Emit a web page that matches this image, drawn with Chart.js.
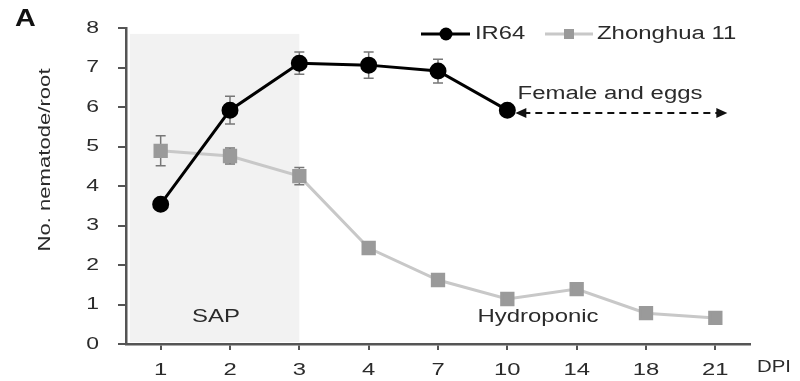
<!DOCTYPE html>
<html>
<head>
<meta charset="utf-8">
<script src="https://cdn.jsdelivr.net/npm/chart.js@4"></script>
<style>
  body { margin: 0; background: #fff; }
  #wrap { width: 800px; height: 381px; position: relative; }
</style>
</head>
<body>
<div id="wrap"><canvas id="chart" width="800" height="381"></canvas></div>
<script>
"use strict";

const dpi = ['1', '2', '3', '4', '7', '10', '14', '18', '21'];
const ir64 = [3.54, 5.92, 7.11, 7.06, 6.91, 5.92, null, null, null];
const ir64Err = [0.1, 0.35, 0.28, 0.33, 0.3, 0.1, 0, 0, 0];
const zh11 = [4.89, 4.76, 4.25, 2.43, 1.62, 1.14, 1.39, 0.78, 0.66];
const zh11Err = [0.38, 0.2, 0.22, 0.05, 0.05, 0.05, 0.05, 0.05, 0.05];
const yTicks = [0, 1, 2, 3, 4, 5, 6, 7, 8];

const FONT = '"Liberation Sans", Arial, sans-serif';
const axisColor = '#555';
const textColor = '#2b2b2b';

// the source figure has its text stretched sideways, so draw it with a scale
function wideText(ctx, text, x, y, size, align, sx, bold) {
  ctx.save();
  ctx.translate(x, y);
  ctx.scale(sx, 1);
  ctx.font = (bold ? 'bold ' : '') + size + 'px ' + FONT;
  ctx.textAlign = align;
  ctx.textBaseline = 'middle';
  ctx.fillText(text, 0, 0);
  ctx.restore();
}

// error bars + shaded SAP box + annotations + legend + labels
const extras = {
  id: 'extras',
  beforeDatasetsDraw(chart) {
    const ctx = chart.ctx;
    const x = chart.scales.x, y = chart.scales.y;
    // SAP shade, from axis to the "3" tick
    ctx.save();
    ctx.fillStyle = '#f2f2f2';
    const left = chart.chartArea.left + 4;
    const right = x.getPixelForValue(2);
    const top = y.getPixelForValue(7.85);
    ctx.fillRect(left, top, right - left, y.getPixelForValue(0) - top - 2);
    ctx.restore();

    // error bars
    const sets = [[zh11, zh11Err], [ir64, ir64Err]];
    ctx.save();
    ctx.strokeStyle = '#777';
    ctx.lineWidth = 1.5;
    sets.forEach(function (s) {
      for (let i = 0; i < dpi.length; i++) {
        if (s[0][i] == null || !s[1][i]) continue;
        const px = x.getPixelForValue(i);
        const hi = y.getPixelForValue(s[0][i] + s[1][i]);
        const lo = y.getPixelForValue(s[0][i] - s[1][i]);
        ctx.beginPath();
        ctx.moveTo(px, hi); ctx.lineTo(px, lo);
        ctx.moveTo(px - 5, hi); ctx.lineTo(px + 5, hi);
        ctx.moveTo(px - 5, lo); ctx.lineTo(px + 5, lo);
        ctx.stroke();
      }
    });
    ctx.restore();
  },
  afterDraw(chart) {
    const ctx = chart.ctx;
    const x = chart.scales.x, y = chart.scales.y;
    ctx.save();
    ctx.fillStyle = textColor;

    // tick labels
    yTicks.forEach(function (v) {
      wideText(ctx, String(v), 99, y.getPixelForValue(v), 17, 'right', 1.35);
    });
    dpi.forEach(function (d, i) {
      wideText(ctx, d, x.getPixelForValue(i), 370, 17, 'center', 1.4);
    });

    // y title
    ctx.save();
    ctx.translate(45, 160);
    ctx.rotate(-Math.PI / 2);
    wideText(ctx, 'No. nematode/root', 0, 0, 17, 'center', 1.3);
    ctx.restore();

    wideText(ctx, 'SAP', 216, 317, 18, 'center', 1.33);
    wideText(ctx, 'Hydroponic', 538, 317, 18, 'center', 1.33);
    wideText(ctx, 'Female and eggs', 610, 94, 18, 'center', 1.33);

    // dashed double arrow
    const ay = y.getPixelForValue(5.85);
    const ax1 = x.getPixelForValue(5) + 8;
    const ax2 = x.getPixelForValue(8) + 12;
    ctx.strokeStyle = '#111';
    ctx.lineWidth = 2;
    ctx.setLineDash([7, 5]);
    ctx.beginPath();
    ctx.moveTo(ax1 + 8, ay); ctx.lineTo(ax2 - 8, ay);
    ctx.stroke();
    ctx.setLineDash([]);
    ctx.fillStyle = '#111';
    ctx.beginPath();
    ctx.moveTo(ax1, ay); ctx.lineTo(ax1 + 11, ay - 5); ctx.lineTo(ax1 + 11, ay + 5); ctx.closePath();
    ctx.moveTo(ax2, ay); ctx.lineTo(ax2 - 11, ay - 5); ctx.lineTo(ax2 - 11, ay + 5); ctx.closePath();
    ctx.fill();

    // panel letter and x title
    ctx.fillStyle = '#111';
    wideText(ctx, 'A', 15, 20, 23, 'left', 1.25, true);
    ctx.fillStyle = textColor;
    wideText(ctx, 'DPI', 757, 367, 17, 'left', 1.2);

    // legend
    const ly = 34;
    ctx.strokeStyle = '#000';
    ctx.lineWidth = 3;
    ctx.beginPath(); ctx.moveTo(421, ly); ctx.lineTo(470, ly); ctx.stroke();
    ctx.fillStyle = '#000';
    ctx.beginPath(); ctx.arc(446, ly, 6.5, 0, Math.PI * 2); ctx.fill();
    ctx.fillStyle = textColor;
    wideText(ctx, 'IR64', 475, ly, 18, 'left', 1.32);
    ctx.strokeStyle = '#c8c8c8';
    ctx.beginPath(); ctx.moveTo(545, ly); ctx.lineTo(593, ly); ctx.stroke();
    ctx.fillStyle = '#9a9a9a';
    ctx.fillRect(564, ly - 5, 10, 10);
    ctx.fillStyle = textColor;
    wideText(ctx, 'Zhonghua 11', 597, ly, 18, 'left', 1.33);
    ctx.restore();
  }
};

const data = {
  labels: dpi,
  datasets: [
    {
      label: 'IR64',
      data: ir64,
      borderColor: '#000',
      backgroundColor: '#000',
      borderWidth: 3,
      pointStyle: 'circle',
      pointRadius: 7,
      pointHoverRadius: 7,
      spanGaps: false,
      order: 0
    },
    {
      label: 'Zhonghua 11',
      data: zh11,
      borderColor: '#c8c8c8',
      backgroundColor: '#9a9a9a',
      pointBorderColor: '#9a9a9a',
      borderWidth: 3,
      pointStyle: 'rect',
      pointRadius: 8,
      pointHoverRadius: 8,
      order: 1
    }
  ]
};

const config = {
  type: 'line',
  data: data,
  options: {
    responsive: false,
    animation: false,
    layout: { padding: { left: 0, right: 50, top: 28, bottom: 0 } },
    plugins: {
      legend: { display: false },
      tooltip: { enabled: false }
    },
    scales: {
      x: {
        offset: true,
        grid: { display: true, drawOnChartArea: false, offset: false, tickLength: 6, color: axisColor, lineWidth: 2 },
        border: { color: axisColor, width: 2.5 },
        ticks: { display: false },
        afterFit: function (s) { s.height = 37; }
      },
      y: {
        min: 0,
        max: 8,
        afterBuildTicks: function (s) { s.ticks = yTicks.map(function (v) { return { value: v }; }); },
        grid: { display: true, drawOnChartArea: false, tickLength: 8, color: axisColor, lineWidth: 2 },
        border: { color: axisColor, width: 2.5 },
        ticks: { display: false },
        afterFit: function (s) { s.width = 126; }
      }
    }
  },
  plugins: [extras]
};

const myChart = new Chart(document.getElementById('chart'), config);
</script>
</body>
</html>
